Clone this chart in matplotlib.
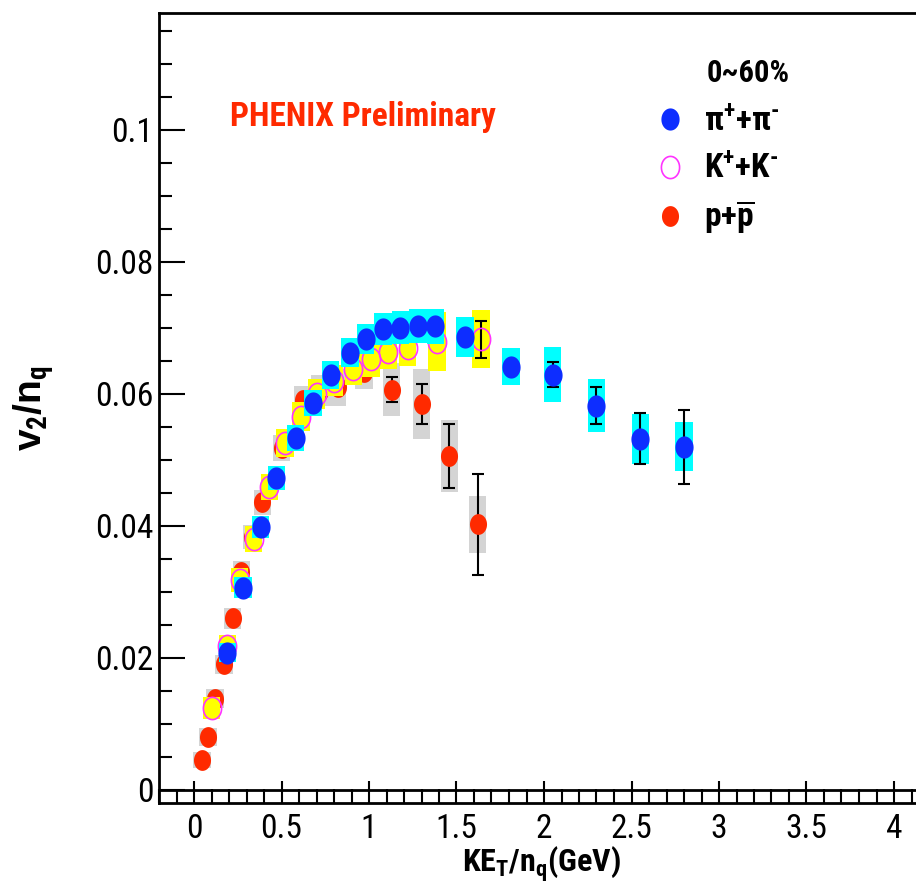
import numpy as np
import matplotlib
matplotlib.use("Agg")
import matplotlib.pyplot as plt
from matplotlib.ticker import MultipleLocator, FuncFormatter

# pi+ + pi-
pi_x = [0.19, 0.28, 0.38, 0.47, 0.58, 0.68, 0.78, 0.89, 0.98, 1.08, 1.18, 1.28, 1.38, 1.55, 1.81, 2.05, 2.30, 2.55, 2.80]
pi_y = [0.0208, 0.0306, 0.0398, 0.0473, 0.0533, 0.0586, 0.0629, 0.0662, 0.0683, 0.0698, 0.0700, 0.0703, 0.0702, 0.0686, 0.0641, 0.0629, 0.0582, 0.0532, 0.0520]
pi_stat = [0.0002, 0.0002, 0.0002, 0.0002, 0.0002, 0.0002, 0.0002, 0.0002, 0.0003, 0.0003, 0.0003, 0.0004, 0.0005, 0.0006, 0.0010, 0.0019, 0.0028, 0.0039, 0.0056]
pi_sys = [0.0015, 0.0016, 0.0017, 0.0018, 0.0019, 0.0020, 0.0021, 0.0022, 0.0023, 0.0024, 0.0025, 0.0026, 0.0026, 0.0030, 0.0028, 0.0042, 0.0040, 0.0038, 0.0037]

# K+ + K-
k_x = [0.10, 0.19, 0.26, 0.34, 0.43, 0.52, 0.61, 0.70, 0.80, 0.91, 1.01, 1.11, 1.22, 1.39, 1.64]
k_y = [0.0124, 0.0218, 0.0318, 0.0380, 0.0459, 0.0525, 0.0565, 0.0600, 0.0620, 0.0638, 0.0652, 0.0664, 0.0670, 0.0679, 0.0683]
k_stat = [0.0002, 0.0002, 0.0002, 0.0002, 0.0002, 0.0003, 0.0003, 0.0003, 0.0004, 0.0004, 0.0005, 0.0006, 0.0008, 0.0012, 0.0028]
k_sys = [0.0016, 0.0017, 0.0018, 0.0019, 0.0020, 0.0021, 0.0022, 0.0023, 0.0024, 0.0025, 0.0026, 0.0027, 0.0028, 0.0045, 0.0044]

# p + pbar
p_x = [0.045, 0.08, 0.12, 0.17, 0.22, 0.27, 0.33, 0.39, 0.50, 0.62, 0.72, 0.82, 0.97, 1.13, 1.30, 1.46, 1.62]
p_y = [0.0045, 0.0080, 0.0138, 0.0190, 0.0260, 0.0330, 0.0383, 0.0436, 0.0518, 0.0590, 0.0605, 0.0610, 0.0633, 0.0606, 0.0585, 0.0506, 0.0402]
p_stat = [0.0002, 0.0002, 0.0002, 0.0002, 0.0002, 0.0002, 0.0002, 0.0003, 0.0003, 0.0004, 0.0005, 0.0006, 0.0008, 0.0019, 0.0030, 0.0048, 0.0076]
p_sys = [0.0012, 0.0013, 0.0014, 0.0015, 0.0016, 0.0017, 0.0018, 0.0019, 0.0020, 0.0022, 0.0024, 0.0028, 0.0026, 0.0040, 0.0053, 0.0055, 0.0043]

x_ticks = [0, 0.5, 1, 1.5, 2, 2.5, 3, 3.5, 4]
y_ticks = [0, 0.02, 0.04, 0.06, 0.08, 0.1]

BLUE = "#0d2dff"
RED = "#ff2a00"
MAGENTA = "#ff33ff"
CYAN = "#00ffff"
YELLOW = "#ffff00"
GREY = "#d4d4d4"

COND = ["Roboto Condensed", "DejaVu Sans"]
plt.rcParams["font.family"] = COND
plt.rcParams["mathtext.fontset"] = "custom"
plt.rcParams["mathtext.rm"] = "Roboto Condensed:bold"
plt.rcParams["mathtext.it"] = "Roboto Condensed:bold"
plt.rcParams["mathtext.bf"] = "Roboto Condensed:bold"

# the original canvas is squeezed sideways, so markers are slightly oval
t = np.linspace(0, 2 * np.pi, 41)
oval = list(zip(0.82 * np.cos(t), np.sin(t)))
ms = 16
# like ROOT: no error bar when it is hidden by the marker
min_err = 0.0015

fig = plt.figure(figsize=(9.16, 8.88), dpi=100)
ax = fig.add_axes([159 / 916, 85 / 888, (946.5 - 159) / 916, 790 / 888])

box_w = 0.1
err_kw = dict(fmt="none", ecolor="black", elinewidth=1.5, capsize=4, capthick=1.5)


def draw_species(xs, ys, stat, sys_, box_color, z, **mk):
    xs, ys, stat, sys_ = map(np.asarray, (xs, ys, stat, sys_))
    ax.bar(xs, 2 * sys_, bottom=ys - sys_, width=box_w, color=box_color, zorder=z)
    big = stat > min_err
    ax.errorbar(xs[big], ys[big], yerr=stat[big], zorder=z + 0.3, **err_kw)
    ax.plot(xs, ys, ls="none", marker=oval, zorder=z + 0.6, **mk)


draw_species(p_x, p_y, p_stat, p_sys, GREY, 1, ms=ms - 1, color=RED, mew=0,
             label=r"p+$\overline{\mathrm{p}}$")
draw_species(k_x, k_y, k_stat, k_sys, YELLOW, 3, ms=ms, mfc="none", mec=MAGENTA, mew=1.2,
             label=r"K$^{+}$+K$^{\text{-}}$")
draw_species(pi_x, pi_y, pi_stat, pi_sys, CYAN, 5, ms=ms, color=BLUE, mew=0,
             label="\u03c0$^{+}$+\u03c0$^{\\text{-}}$")

ax.axhline(0, color="black", lw=2, zorder=0.5)

ax.set_xlim(-0.2, 4.3)
ax.set_ylim(-0.002, 0.1177)
ax.set_xticks(x_ticks)
ax.set_yticks(y_ticks)
ax.xaxis.set_minor_locator(MultipleLocator(0.1))
ax.yaxis.set_minor_locator(MultipleLocator(0.005))
fmt = FuncFormatter(lambda v, pos: "%g" % round(v, 3))
ax.xaxis.set_major_formatter(fmt)
ax.yaxis.set_major_formatter(fmt)

ax.tick_params(axis="both", which="both", direction="in", top=False, right=False, width=1.5)
ax.tick_params(axis="y", which="major", length=19, labelsize=24, pad=4)
ax.tick_params(axis="y", which="minor", length=9.5)
ax.tick_params(axis="x", which="major", length=16, labelsize=24, pad=7)
ax.tick_params(axis="x", which="minor", length=10)
for s in ax.spines.values():
    s.set_linewidth(2)

ax.set_xlabel("KE$_{T}$/n$_{q}$(GeV)", fontsize=23, fontweight="bold")
ax.xaxis.set_label_coords(0.486, -0.052)
ax.set_ylabel("v$_{2}$/n$_{q}$", fontsize=28, fontweight="bold", family=["Liberation Sans", "DejaVu Sans"])
ax.yaxis.set_label_coords(-0.131, 0.5)

ax.text(0.09, 0.868, "PHENIX Preliminary", transform=ax.transAxes, color=RED,
        fontsize=24, fontweight="bold", va="center", ha="left")
ax.text(0.696, 0.924, "0~60%", transform=ax.transAxes, fontsize=22, fontweight="bold",
        va="center", ha="left")

handles, labels = ax.get_legend_handles_labels()
leg = ax.legend(handles[::-1], labels[::-1], loc="upper left", bbox_to_anchor=(0.631, 0.884),
                frameon=False, numpoints=1, handlelength=0.85, handletextpad=0.6,
                borderpad=0, borderaxespad=0, labelspacing=0.42,
                prop=dict(family=COND, weight="bold", size=24))

fig.savefig("out.png", dpi=100)
